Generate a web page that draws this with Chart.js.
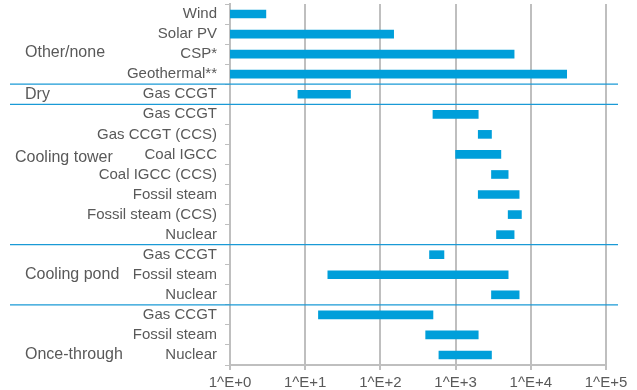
<!DOCTYPE html>
<html>
<head>
<meta charset="utf-8">
<script src="https://cdn.jsdelivr.net/npm/chart.js@4"></script>
<style>
    body { margin: 0; background: #fff; }
    #wrap { width: 637px; height: 390px; }
</style>
</head>
<body>
<div id="wrap"><canvas id="water_chart" width="637" height="390"></canvas></div>
<script>
const categories = [
    "Wind", "Solar PV", "CSP*", "Geothermal**",
    "Gas CCGT",
    "Gas CCGT", "Gas CCGT (CCS)", "Coal IGCC", "Coal IGCC (CCS)", "Fossil steam", "Fossil steam (CCS)", "Nuclear",
    "Gas CCGT", "Fossil steam", "Nuclear",
    "Gas CCGT", "Fossil steam", "Nuclear"
]
const lowValues = [1, 1, 1, 1, 8, 500, 2000, 1000, 3000, 2000, 5000, 3500, 450, 20, 3000, 15, 400, 600]
const highValues = [3, 150, 6000, 30000, 40, 2000, 3000, 4000, 5000, 7000, 7500, 6000, 700, 5000, 7000, 500, 2000, 3000]
const tickValues = [1, 10, 100, 1000, 10000, 100000]

const groupNames = ["Other/none", "Dry", "Cooling tower", "Cooling pond", "Once-through"]
const groupStarts = [0, 4, 5, 12, 15]
const groupLabelAt = [1.9, 4, 7.15, 13, 17]

const textColor = "#595959"
const barColor = "#009fda"
const fontFamily = "'Liberation Sans', Arial, sans-serif"

const groupPlugin = {
    id: "groups",
    afterDraw(chart) {
        const ctx = chart.ctx
        const y = chart.scales.y
        ctx.save()
        // separator lines between groups
        ctx.strokeStyle = "#1a9ad6"
        ctx.lineWidth = 1.2
        for (let i = 1; i < groupStarts.length; i++) {
            const py = (y.getPixelForValue(groupStarts[i] - 1) + y.getPixelForValue(groupStarts[i])) / 2
            ctx.beginPath()
            ctx.moveTo(10, py)
            ctx.lineTo(618, py)
            ctx.stroke()
        }
        // group names
        ctx.fillStyle = textColor
        ctx.font = "16px " + fontFamily
        ctx.textBaseline = "middle"
        ctx.textAlign = "left"
        groupNames.forEach((name, i) => {
            const x = name === "Cooling tower" ? 15 : 25
            ctx.fillText(name, x, y.getPixelForValue(groupLabelAt[i]))
        })
        ctx.restore()
    }
}

function create_range_chart(ctx) {
    const data = {
        labels: categories,
        datasets: [{
            data: categories.map((c, i) => [lowValues[i], highValues[i]]),
            backgroundColor: barColor,
            borderWidth: 0,
            borderSkipped: false,
            barThickness: 8
        }]
    }

    const config = {
        type: "bar",
        data: data,
        plugins: [groupPlugin],
        options: {
            indexAxis: "y",
            responsive: false,
            animation: false,
            layout: { padding: { top: 4, right: 31, left: 0, bottom: 0 } },
            plugins: {
                legend: { display: false },
                tooltip: { enabled: false }
            },
            scales: {
                x: {
                    type: "logarithmic",
                    min: 1,
                    max: 100000,
                    afterBuildTicks: (scale) => {
                        scale.ticks = tickValues.map(v => ({ value: v }))
                    },
                    afterFit: (scale) => {
                        scale.height = 25
                        scale.paddingLeft = 0
                        scale.paddingRight = 0
                    },
                    grid: { color: "#bfbfbf", lineWidth: 2, tickLength: 5 },
                    border: { color: "#bfbfbf", width: 2 },
                    ticks: {
                        color: textColor,
                        font: { size: 15, family: fontFamily },
                        padding: 4,
                        maxRotation: 0,
                        autoSkip: false,
                        callback: (v) => "1^E+" + Math.round(Math.log10(v))
                    }
                },
                y: {
                    afterFit: (scale) => {
                        scale.width = 230
                        scale.paddingTop = 0
                        scale.paddingBottom = 0
                    },
                    grid: { drawOnChartArea: false, offset: true, color: "#bfbfbf", tickLength: 5 },
                    border: { color: "#bfbfbf", width: 2 },
                    ticks: {
                        color: textColor,
                        font: { size: 15, family: fontFamily },
                        padding: 8,
                        autoSkip: false
                    }
                }
            }
        }
    }
    return new Chart(ctx, config)
}

create_range_chart(document.querySelector("#water_chart"))
</script>
</body>
</html>
